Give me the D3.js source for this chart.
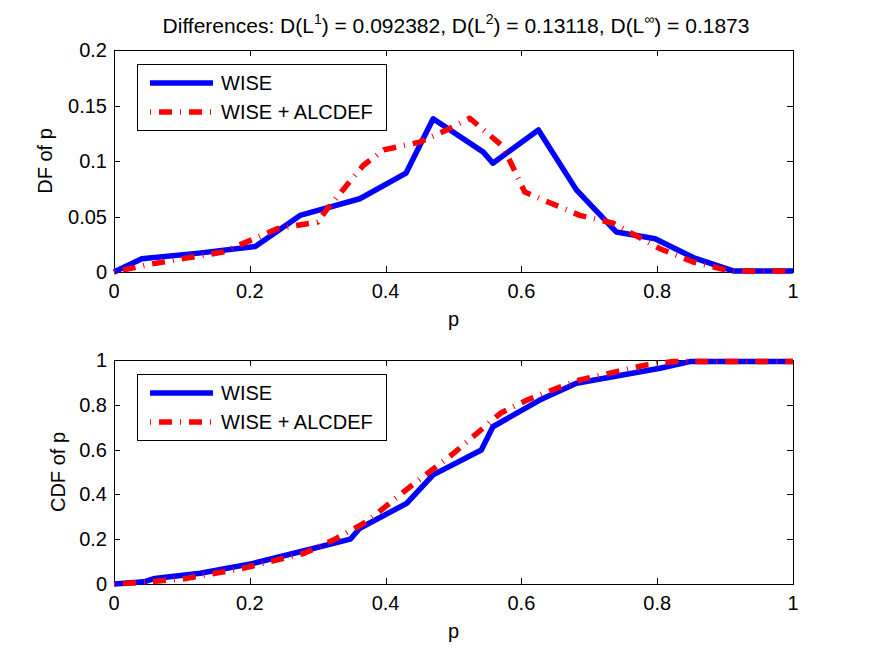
<!DOCTYPE html>
<html>
<head>
<meta charset="utf-8">
<script src="https://cdn.jsdelivr.net/npm/d3@7"></script>
<style>
  body { margin: 0; background: #fff; }
  text { font-family: "Liberation Sans", Arial, sans-serif; fill: #000; }
</style>
</head>
<body>
<svg id="chart" width="875" height="659"></svg>
<script>
// density of p (top panel)
const dfWiseP = [0, 0.041, 0.125, 0.208, 0.274, 0.362, 0.43, 0.47, 0.544, 0.558, 0.625, 0.681, 0.74, 0.797, 0.82, 0.853, 0.912, 1];
const dfWise = [0, 0.012, 0.017, 0.023, 0.051, 0.066, 0.089, 0.138, 0.108, 0.098, 0.128, 0.074, 0.036, 0.030, 0.023, 0.013, 0.001, 0.001];
const dfAllP = [0, 0.053, 0.16, 0.203, 0.24, 0.3, 0.313, 0.367, 0.397, 0.45, 0.49, 0.524, 0.573, 0.605, 0.686, 0.735, 0.804, 0.853, 0.907, 1];
const dfAll = [0, 0.007, 0.018, 0.029, 0.039, 0.045, 0.056, 0.096, 0.11, 0.117, 0.128, 0.1385, 0.113, 0.072, 0.051, 0.044, 0.021, 0.009, 0.001, 0.001];

// cumulative (bottom panel)
const cdfWiseP = [0, 0.044, 0.06, 0.127, 0.205, 0.274, 0.348, 0.362, 0.431, 0.47, 0.541, 0.558, 0.627, 0.681, 0.804, 0.848, 1];
const cdfWise = [0, 0.01, 0.025, 0.048, 0.092, 0.144, 0.2, 0.249, 0.36, 0.487, 0.598, 0.702, 0.821, 0.896, 0.963, 0.993, 0.993];
const cdfAllP = [0, 0.053, 0.107, 0.19, 0.28, 0.323, 0.372, 0.436, 0.5, 0.569, 0.608, 0.652, 0.686, 0.74, 0.784, 0.824, 1];
const cdfAll = [0, 0.01, 0.025, 0.07, 0.137, 0.196, 0.278, 0.434, 0.583, 0.762, 0.821, 0.874, 0.911, 0.948, 0.978, 0.993, 0.993];

const xTicks = [0, 0.2, 0.4, 0.6, 0.8, 1];
const dfTicks = [0, 0.05, 0.1, 0.15, 0.2];
const cdfTicks = [0, 0.2, 0.4, 0.6, 0.8, 1];
const seriesNames = ["WISE", "WISE + ALCDEF"];

let svg = d3.select("#chart");
const left = 114, right = 793;
const fmt = v => String(+v.toFixed(2));

// title with superscripts
let title = svg.append("text")
    .attr("x", 456).attr("y", 33)
    .attr("text-anchor", "middle")
    .style("font-size", "21px");
const titleParts = [["Differences: D(L", ""], ["1", "sup"], [") = 0.092382, D(L", ""], ["2", "sup"],
    [") = 0.13118, D(L", ""], ["\u221E", "sup"], [") = 0.1873", ""]];
let prevSup = false;
titleParts.forEach(p => {
    let t = title.append("tspan").text(p[0]);
    if (p[1] === "sup") {
        t.attr("dy", -9).style("font-size", "14px");
        prevSup = true;
    } else if (prevSup) {
        t.attr("dy", 9);
        prevSup = false;
    }
});

function panel(top, bottom, yMax, yTicks, yLabel, yLabelX, lines) {
    let x = d3.scaleLinear().domain([0, 1]).range([left, right]);
    let y = d3.scaleLinear().domain([0, yMax]).range([bottom, top]);
    let g = svg.append("g");

    // box
    g.append("rect")
        .attr("x", left + 0.5).attr("y", top + 0.5)
        .attr("width", right - left).attr("height", bottom - top)
        .attr("fill", "none").attr("stroke", "#000").attr("stroke-width", 1);

    // ticks inside, on all four sides
    let tl = 6;
    xTicks.forEach(v => {
        let px = Math.round(x(v)) + 0.5;
        g.append("line").attr("x1", px).attr("x2", px).attr("y1", bottom).attr("y2", bottom - tl).attr("stroke", "#000");
        g.append("line").attr("x1", px).attr("x2", px).attr("y1", top).attr("y2", top + tl).attr("stroke", "#000");
        g.append("text").attr("x", x(v)).attr("y", bottom + 26)
            .attr("text-anchor", "middle").style("font-size", "20px").text(fmt(v));
    });
    yTicks.forEach(v => {
        let py = Math.round(y(v)) + 0.5;
        g.append("line").attr("x1", left).attr("x2", left + tl).attr("y1", py).attr("y2", py).attr("stroke", "#000");
        g.append("line").attr("x1", right).attr("x2", right - tl).attr("y1", py).attr("y2", py).attr("stroke", "#000");
        g.append("text").attr("x", left - 7).attr("y", y(v) + 7)
            .attr("text-anchor", "end").style("font-size", "20px").text(fmt(v));
    });

    // axis labels
    g.append("text").attr("x", (left + right) / 2).attr("y", bottom + 54)
        .attr("text-anchor", "middle").style("font-size", "20px").text("p");
    g.append("text")
        .attr("transform", `translate(${yLabelX},${(top + bottom) / 2}) rotate(-90)`)
        .attr("text-anchor", "middle").style("font-size", "20px").text(yLabel);

    // series
    let line = d3.line().x(d => x(d[0])).y(d => y(d[1]));
    lines.forEach(s => {
        g.append("path")
            .datum(d3.zip(s.p, s.v))
            .attr("d", line)
            .attr("fill", "none")
            .attr("stroke", s.color)
            .attr("stroke-width", 5.5)
            .attr("stroke-linejoin", "round")
            .attr("stroke-dasharray", s.dash);
    });

    // legend
    let lx = 137, ly = top + 14;
    let lg = g.append("g");
    lg.append("rect").attr("x", lx + 0.5).attr("y", ly + 0.5).attr("width", 249).attr("height", 66)
        .attr("fill", "#fff").attr("stroke", "#000");
    lines.forEach((s, i) => {
        let yy = ly + 19 + i * 29;
        lg.append("line").attr("x1", 150).attr("x2", 213).attr("y1", yy).attr("y2", yy)
            .attr("stroke", s.color).attr("stroke-width", 5.5).attr("stroke-dasharray", s.dash);
        lg.append("text").attr("x", 221).attr("y", yy + 7).style("font-size", "20px").text(seriesNames[i]);
    });
}

panel(50, 272, 0.2, dfTicks, "DF of p", 52, [
    { p: dfWiseP, v: dfWise, color: "#0000ff", dash: null },
    { p: dfAllP, v: dfAll, color: "#ff0000", dash: "1,8,13,8" }
]);
panel(360, 584, 1, cdfTicks, "CDF of p", 65, [
    { p: cdfWiseP, v: cdfWise, color: "#0000ff", dash: null },
    { p: cdfAllP, v: cdfAll, color: "#ff0000", dash: "1,8,13,8" }
]);
</script>
</body>
</html>
